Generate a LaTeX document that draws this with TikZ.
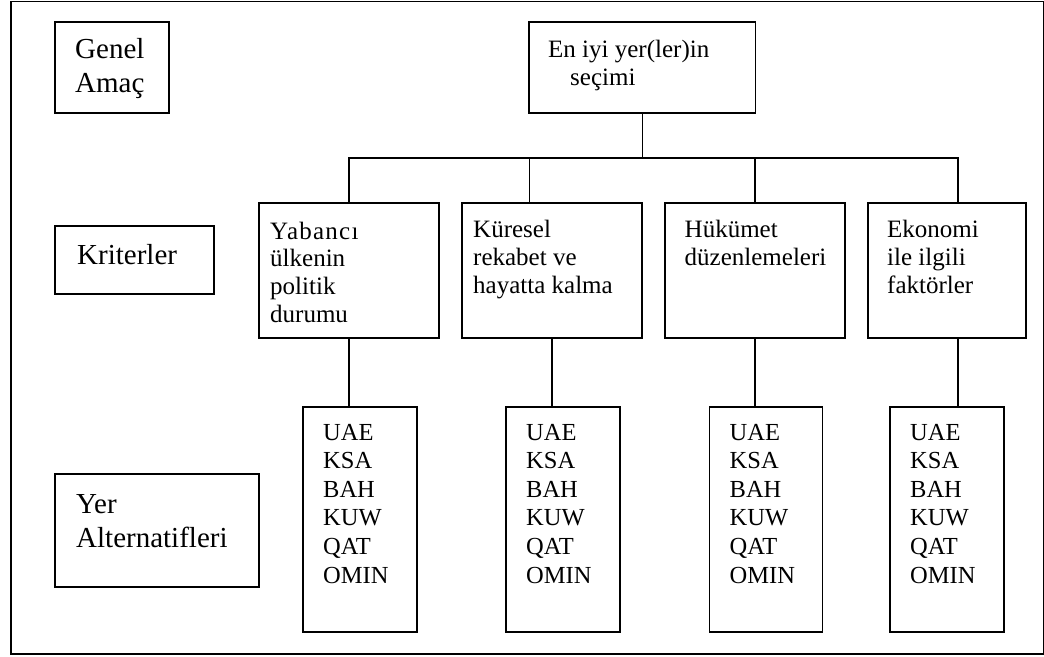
\documentclass[tikz,border=0pt]{standalone}
\usepackage{fontspec}
\setmainfont{Liberation Serif}
\begin{document}
\begin{tikzpicture}[x=1pt,y=-1pt,
  bx/.style={draw, line width=1.4pt, inner sep=0pt, rectangle},
  ln/.style={line width=1.2pt},
  frm/.style={line width=1.4pt},
  lbl/.style={anchor=base west, inner sep=0pt, align=left, font={\fontsize{25}{28}\selectfont}},
  big/.style={anchor=base west, inner sep=0pt, align=left, font={\fontsize{29}{34}\selectfont}},
  alt/.style={anchor=base west, inner sep=0pt, align=left, font={\fontsize{24.5}{28.6}\selectfont}}]
\useasboundingbox (0,0) rectangle (1044,656);
% outer frame
\draw[frm] (11,1.5) rectangle (1043.2,654);

% level labels (multi-line nodes: base = baseline of the last line)
\node[bx, minimum width=114pt, minimum height=91pt] (genel) at (112,67.5) {};
\node[big] (tgenel) at (75,92) {Genel\\Amaç};
\node[bx, minimum width=159pt, minimum height=68pt] (krit) at (134.5,260) {};
\node[big] (tkrit) at (77,264) {Kriterler};
\node[bx, minimum width=204pt, minimum height=113pt] (yer) at (157,530.5) {};
\node[big] (tyer) at (76,547) {Yer\\Alternatifleri};

% goal
\node[bx, minimum width=226.5pt, minimum height=91pt] (top) at (642.25,67.5) {};
\node[lbl] (ttop) at (548,85) {En iyi yer(ler)in\\\hspace*{22pt}seçimi};

% criteria
\node[bx, minimum width=180pt, minimum height=135pt] (c1) at (349,270.5) {};
\node[bx, minimum width=180pt, minimum height=135pt] (c2) at (552,270.5) {};
\node[bx, minimum width=180pt, minimum height=135pt] (c3) at (755,270.5) {};
\node[bx, minimum width=158pt, minimum height=135pt] (c4) at (947,270.5) {};
\node[lbl] (tc1a) at (270,239.5) {\addfontfeature{LetterSpace=5}Yabancı};
\node[lbl] (tc1b) at (270,322) {ülkenin\\politik\\durumu};
\node[lbl] (tc2) at (473,293) {Küresel\\rekabet ve\\hayatta kalma};
\node[lbl] (tc3) at (684.5,265) {Hükümet\\düzenlemeleri};
\node[lbl] (tc4) at (887,293) {Ekonomi\\ile ilgili\\faktörler};

% alternatives
\node[bx, minimum width=114pt, minimum height=225pt] (a1) at (360,519.5) {};
\node[bx, minimum width=114pt, minimum height=225pt] (a2) at (563,519.5) {};
\node[bx, minimum width=113pt, minimum height=225pt] (a3) at (766,519.5) {};
\node[bx, minimum width=114pt, minimum height=225pt] (a4) at (947,519.5) {};
\node[alt] (ta1) at (323,583) {UAE\\KSA\\BAH\\KUW\\QAT\\OMIN};
\node[alt] (ta2) at (526,583) {UAE\\KSA\\BAH\\KUW\\QAT\\OMIN};
\node[alt] (ta3) at (729.5,583) {UAE\\KSA\\BAH\\KUW\\QAT\\OMIN};
\node[alt] (ta4) at (910,583) {UAE\\KSA\\BAH\\KUW\\QAT\\OMIN};

% connectors
\coordinate (busL) at (349,158);
\coordinate (busR) at (958,158);
\draw[ln] (top.south) -- (top.south |- busL);
\draw[ln] (c1.north) -- (c1.north |- busL) -- (busR) -- (busR |- c4.north);
\draw[ln] ([xshift=-22.5pt]c2.north) -- ([xshift=-22.5pt]c2.north |- busL);
\draw[ln] (c3.north) -- (c3.north |- busL);
\draw[line width=2.4pt] (394,158) -- (417,158);

\draw[ln] (c1.south) -- (c1.south |- a1.north);
\draw[ln] (c2.south) -- (c2.south |- a2.north);
\draw[ln] (c3.south) -- (c3.south |- a3.north);
\draw[ln] ([xshift=11pt]c4.south) -- ([xshift=11pt]c4.south |- a4.north);
\end{tikzpicture}
\end{document}
